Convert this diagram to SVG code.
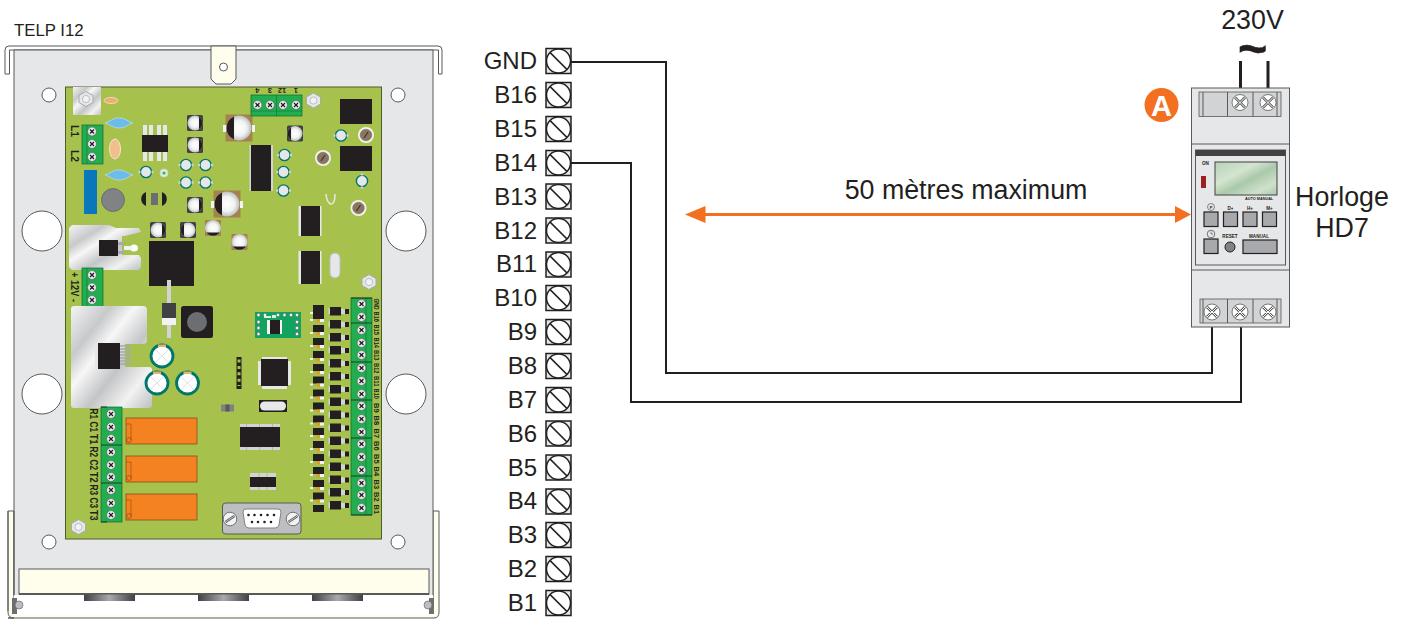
<svg xmlns="http://www.w3.org/2000/svg" xmlns:xlink="http://www.w3.org/1999/xlink" width="1407" height="619" viewBox="0 0 1407 619">
<style>
text{font-family:"Liberation Sans",Arial,sans-serif;fill:#231f20}
.lbl{font-size:24px}
.big{font-size:26.800px}
.end{text-anchor:end}
.mid{text-anchor:middle}
.rot{font-size:10px;font-weight:bold}
.rots{font-size:7.5px;font-weight:bold}
.wire{fill:none;stroke:#231f20;stroke-width:2}
.ac{fill:none;stroke:#231f20;stroke-width:3}
.bk{fill:#231f20}
.ln{fill:none;stroke:#58595b;stroke-width:1}
.plate{fill:#e6e7e8;stroke:#58595b;stroke-width:1}
.hole{fill:#fff;stroke:#58595b;stroke-width:1}
.term{fill:#22ad50;stroke:#0b6b33;stroke-width:.7}
.si{fill:url(#silver)}
.cap{fill:url(#ball)}
.cream{fill:#fffdec;stroke:#58595b;stroke-width:1}
.relay{fill:#f58220;stroke:#8a4b1a;stroke-width:.8}
.devb{fill:#e6e7e8;stroke:#58595b;stroke-width:1}
.devt{fill:#d1d3d4;stroke:#58595b;stroke-width:.8}
.btn{fill:#a7a9ac;stroke:#231f20;stroke-width:1.2}
.tiny{font-size:4.6px;font-weight:bold}
.term-box{fill:#e6e7e8;stroke:#231f20;stroke-width:1.5}
.term-c{fill:#fff;stroke:#231f20;stroke-width:1.5}
</style>
<defs>
<linearGradient id="silver" x1="0" y1="0" x2="1" y2="1">
<stop offset="0" stop-color="#f4f4f4"/><stop offset=".25" stop-color="#c8c9cb"/><stop offset=".4" stop-color="#f7f7f7"/><stop offset=".6" stop-color="#c4c5c7"/><stop offset=".8" stop-color="#f2f2f2"/><stop offset="1" stop-color="#bcbec0"/>
</linearGradient>
<radialGradient id="ball"><stop offset="0" stop-color="#fff"/><stop offset=".6" stop-color="#f1f2f2"/><stop offset="1" stop-color="#bcbec0"/></radialGradient>
<linearGradient id="tab" x1="0" y1="0" x2="1" y2="0"><stop offset="0" stop-color="#414042"/><stop offset=".5" stop-color="#a7a9ac"/><stop offset="1" stop-color="#414042"/></linearGradient>
<linearGradient id="lcd" x1="0" y1="0" x2="1" y2="1"><stop offset="0" stop-color="#b7d3b5"/><stop offset=".35" stop-color="#d4e4d0"/><stop offset=".55" stop-color="#a9c9a9"/><stop offset=".8" stop-color="#cfe1cc"/><stop offset="1" stop-color="#a9c9a9"/></linearGradient>
<g id="scr"><circle r="4.4" fill="#e9eaeb" stroke="#4d4d4f" stroke-width=".5"/><path d="M-2-2L2 2M2-2L-2 2" stroke="#231f20" stroke-width="1.2"/><circle r="1.1" class="bk"/></g>
<g id="nut"><path d="M-7-3.5L0-7.5L7-3.5V3.5L0 7.5L-7 3.5Z" fill="#e6e7e8" stroke="#a7a9ac" stroke-width="1"/><circle r="3.6" fill="#f1f2f2" stroke="#bcbec0"/></g>
<g id="tk"><circle r="5.6" fill="#e6e7e8" stroke="#00766c" stroke-width="1.4"/><path d="M-7.5-1.2H-5.5V1.2H-7.5ZM5.5-1.2H7.5V1.2H5.5Z" fill="#d1d3d4"/></g>
<g id="smd"><rect x="-8" y="-8" width="16" height="16" rx="1.5" fill="#414042"/><circle r="7.5" class="cap"/><path d="M4-6.3A7.5 7.5 0 0 1 4 6.3Z" class="bk"/></g>
<g id="smdl"><rect x="-8" y="-8" width="16" height="16" rx="1.5" fill="#414042"/><circle r="7.5" class="cap"/><path d="M-4-6.3A7.5 7.5 0 0 0-4 6.3Z" class="bk"/></g>
<g id="big"><rect x="-13.5" y="-13.5" width="27" height="27" fill="#a5814f"/><circle r="12.5" class="cap"/><path d="M-5-11.4A12.5 12.5 0 0 0-5 11.4Z" class="bk"/><rect x="-16" y="-3" width="3" height="7" fill="#f1f2f2"/><rect x="13" y="-3" width="3" height="7" fill="#f1f2f2"/></g>
<g id="low"><rect x="-8" y="-8" width="16" height="16" fill="#a5814f"/><circle r="8" class="cap"/><path d="M-6.5 4.5A8 8 0 0 0 6.5 4.5Z" class="bk"/></g>
<g id="trim"><circle r="8" fill="#f1f2f2"/><circle r="5.8" fill="#8a7660" stroke="#6d5d4c" stroke-width=".5"/><path d="M-2 3L2-3" stroke="#3d332a" stroke-width="1.2"/></g>
<g id="grn"><circle r="11" fill="#fff" stroke="#00766c" stroke-width="2.8"/><path d="M-7-7L7 7M7-7L-7 7" stroke="#d1d3d4" stroke-width=".7"/><rect x="-4" y="-11.5" width="8" height="2.5" fill="#e8b071"/></g>
<g id="bcap"><path d="M-14 0C-9-1-7-5 0-5S9-1 14 0C9 1 7 5 0 5S-9 1-14 0Z" fill="#6cbbe8" stroke="#b5ddf2" stroke-width=".8"/></g>
<g id="d1"><rect width="11" height="7" class="bk"/><rect x="-3" y="7" width="3" height="2" fill="#f1f2f2"/><rect x="3.5" y="7" width="3.5" height="3" fill="#e0982f"/><rect x="7" y="7" width="4" height="3" fill="#f1f2f2"/></g>
<g id="d2"><rect x="-1.5" y="1.5" width="14" height="5.5" fill="#d1d3d4"/><rect width="11" height="8.5" class="bk"/><rect x="15" y="2" width="4" height="5" class="bk"/><rect x="12" y="2" width="3" height="5" fill="#d1d3d4"/></g>
<g id="rel"><rect width="71" height="26" class="relay"/><path d="M0 6H5V22" fill="none" stroke="#8a4b1a" stroke-width=".6"/><circle cx="3" cy="22" r="2.4" fill="none" stroke="#8a4b1a" stroke-width=".7"/></g>
<g id="pad"><circle r="1.7" fill="#f1f2f2" stroke="#58595b" stroke-width=".5"/></g>
<g id="ds"><circle r="6.8" fill="#f1f2f2" stroke="#58595b" stroke-width=".8"/><path d="M-4.500 3L4.500-3" stroke="#58595b" stroke-width="2.400"/><path d="M-4.500 3L4.500-3" stroke="#f1f2f2" stroke-width=".7"/></g>
<g id="tb"><rect x="-12.5" y="-12.5" width="25" height="25" class="term-box"/><circle r="12" class="term-c"/><path d="M-8.5-8.5L8.5 8.5" stroke="#231f20" stroke-width="1.7"/></g>
</defs>

<rect width="1407" height="619" fill="#fff"/>

<g id="telp-title"><text x="14" y="36" font-size="16.8">TELP I12</text></g>

<g id="telp-enclosure">
<path d="M8 618H434Q439 618 439 612V511H433V612H14V511H8V612Q8 618 14 618Z" class="cream"/>
<path d="M5 74V50Q5 46 9 46H438Q442 46 442 50V74H438.500V50H9.500V74Z" fill="#fff" stroke="#58595b"/>
<path d="M14 50H433V596H14Z" class="plate"/>
<rect x="14" y="595" width="419" height="20" fill="#fff"/>
<path d="M8 611V511M14 511V595" class="ln"/>
<rect x="19" y="569" width="410" height="25" class="cream"/>
<path d="M19 594H429" stroke="#414042" stroke-width="1.5"/>
<rect x="84" y="594.500" width="51" height="6.500" fill="url(#tab)"/>
<rect x="198" y="594.500" width="51" height="6.500" fill="url(#tab)"/>
<rect x="312" y="594.500" width="51" height="6.500" fill="url(#tab)"/>
<rect x="12" y="598" width="5" height="16" fill="#6d6e71"/><circle cx="19" cy="605" r="4" fill="#bcbec0" stroke="#58595b" stroke-width=".6"/>
<rect x="429" y="598" width="5" height="16" fill="#6d6e71"/><circle cx="428" cy="605" r="4" fill="#bcbec0" stroke="#58595b" stroke-width=".6"/>
<path d="M211 46H236V79L231 84H216L211 79Z" class="cream"/>
<circle cx="223.500" cy="67" r="4" fill="#fff" stroke="#58595b"/>
<circle cx="49" cy="95" r="7" class="hole"/><circle cx="398" cy="95" r="7" class="hole"/>
<circle cx="49" cy="542" r="7" class="hole"/><circle cx="398" cy="542" r="7" class="hole"/>
<circle cx="42" cy="231" r="20" class="hole"/><circle cx="406" cy="231" r="20" class="hole"/>
<circle cx="42" cy="394" r="20" class="hole"/><circle cx="406" cy="394" r="20" class="hole"/>
</g>

<g id="telp-board">
<rect x="65.500" y="87" width="316" height="452" fill="#a6c24d" stroke="#4f5b2a" stroke-width="1"/>

<rect x="73" y="87" width="28" height="28" class="si"/>
<use xlink:href="#nut" x="86" y="99"/>
<ellipse cx="111" cy="100.500" rx="7" ry="3" fill="#e8b071" stroke="#f6d9b4"/>

<rect x="82" y="125" width="21" height="39" class="term"/><path d="M87 125V164" stroke="#0b6b33" stroke-width=".5"/>
<use xlink:href="#scr" x="92" y="131.500"/><use xlink:href="#scr" x="92" y="144"/><use xlink:href="#scr" x="92" y="157"/>
<text class="rot" transform="translate(71,125) rotate(90)" textLength="12" lengthAdjust="spacingAndGlyphs">L1</text>
<text class="rot" transform="translate(71,150) rotate(90)" textLength="12" lengthAdjust="spacingAndGlyphs">L2</text>

<use xlink:href="#bcap" x="119" y="123"/><use xlink:href="#bcap" x="119" y="175"/>
<ellipse cx="115" cy="149" rx="5.500" ry="10" fill="#f1bf8c" stroke="#f9e3c9"/>
<path d="M143 125h4v10h-4zM149 125h4v10h-4zM157 125h4v10h-4zM163 125h4v10h-4zM143 152h4v9h-4zM149 152h4v9h-4zM157 152h4v9h-4zM163 152h4v9h-4z" fill="#e6e7e8"/>
<rect x="142" y="135" width="26" height="17" class="bk"/>
<use xlink:href="#smd" x="195" y="123"/><use xlink:href="#smd" x="195" y="145"/>
<use xlink:href="#tk" x="186" y="165"/><use xlink:href="#tk" x="205.500" y="165"/><use xlink:href="#tk" x="186" y="182.500"/><use xlink:href="#tk" x="205.500" y="182.500"/>
<use xlink:href="#tk" x="146" y="172"/>
<circle cx="164" cy="173" r="4" fill="#d6f0dc" stroke="#d1d3d4"/><circle cx="164" cy="173" r="1.6" fill="#39b54a"/>
<rect x="84" y="170" width="13" height="44" fill="#0a76bc"/>
<circle cx="113" cy="200" r="11.500" fill="#808285" stroke="#58595b" stroke-width=".6"/>
<path d="M146 192A7.500 7.500 0 0 0 146 206ZM162 192A7.500 7.500 0 0 1 162 206Z" class="bk"/>
<path d="M147 193h3v12h-3zM158 193h3v12h-3z" fill="#a6c24d"/><rect x="151" y="193" width="7" height="12" fill="#6d6e71"/>
<use xlink:href="#smd" x="195" y="205"/><use xlink:href="#big" x="227" y="204"/><use xlink:href="#big" x="239" y="128"/>
<use xlink:href="#smdl" x="188" y="230"/><use xlink:href="#smd" x="158" y="230"/><use xlink:href="#low" x="213" y="228"/><use xlink:href="#low" x="239.500" y="242"/>

<path d="M72 225H109L116 228H139L141 232L125 236H122V255H139L141 258V267L139 270H72L69 267V228Z" class="si"/>
<rect x="99" y="240" width="19" height="16" class="bk"/>
<path d="M118 242H124V245H118ZM118 251H124V254H118Z" fill="#a7a9ac"/><ellipse cx="134" cy="248" rx="4" ry="3.500" fill="#fff"/><path d="M124 248H132" stroke="#f1f2f2" stroke-width="4"/>
<rect x="149" y="241" width="45" height="45" class="bk"/>

<rect x="82" y="268" width="21" height="39" class="term"/><path d="M87 268V307" stroke="#0b6b33" stroke-width=".5"/>
<use xlink:href="#scr" x="92" y="275"/><use xlink:href="#scr" x="92" y="287.500"/><use xlink:href="#scr" x="92" y="300"/>
<text class="rot" transform="translate(71,272) rotate(90)" textLength="30" lengthAdjust="spacingAndGlyphs">+ 12V -</text>

<path d="M74 306H143Q147 306 147 310V341Q147 344 143 344H125V367H149Q152 367 152 370V405Q152 408 149 408H74Q71 408 71 405V309Q71 306 74 306Z" class="si"/>
<rect x="95" y="343" width="25" height="26" class="bk"/><rect x="95" y="343" width="3" height="26" fill="#e6e7e8"/>
<path d="M120 346H131M120 349H131M120 352H131M120 355H131M120 358H131M120 361H131M120 364H131" stroke="#a7a9ac" stroke-width="1.600"/>
<path d="M169 280V338" stroke="#d1d3d4" stroke-width="4"/>
<rect x="162" y="303" width="14" height="18" fill="#414042"/><rect x="162" y="318" width="14" height="7" fill="#f1f2f2"/>
<rect x="181" y="306" width="32" height="32" rx="2.500" class="bk"/><circle cx="197" cy="322" r="10" fill="#6d6e71"/>
<use xlink:href="#grn" x="162" y="356"/><use xlink:href="#grn" x="157" y="383"/><use xlink:href="#grn" x="187.500" y="383"/>

<rect x="101" y="407" width="21" height="115" class="term"/>
<path d="M101 407H107M101 445H122M101 483H122M101 522H107" stroke="#231f20" stroke-width=".8"/>
<use xlink:href="#scr" x="111" y="414"/><use xlink:href="#scr" x="111" y="427"/><use xlink:href="#scr" x="111" y="439"/><use xlink:href="#scr" x="111" y="452"/><use xlink:href="#scr" x="111" y="465"/><use xlink:href="#scr" x="111" y="477"/><use xlink:href="#scr" x="111" y="490"/><use xlink:href="#scr" x="111" y="503"/><use xlink:href="#scr" x="111" y="515"/>
<text class="rot" transform="translate(90,408.500) rotate(90)" textLength="10.500" lengthAdjust="spacingAndGlyphs">R1</text>
<text class="rot" transform="translate(90,421.500) rotate(90)" textLength="10.500" lengthAdjust="spacingAndGlyphs">C1</text>
<text class="rot" transform="translate(90,434) rotate(90)" textLength="10.500" lengthAdjust="spacingAndGlyphs">T1</text>
<text class="rot" transform="translate(90,446.500) rotate(90)" textLength="10.500" lengthAdjust="spacingAndGlyphs">R2</text>
<text class="rot" transform="translate(90,459.500) rotate(90)" textLength="10.500" lengthAdjust="spacingAndGlyphs">C2</text>
<text class="rot" transform="translate(90,472) rotate(90)" textLength="10.500" lengthAdjust="spacingAndGlyphs">T2</text>
<text class="rot" transform="translate(90,484.500) rotate(90)" textLength="10.500" lengthAdjust="spacingAndGlyphs">R3</text>
<text class="rot" transform="translate(90,497.500) rotate(90)" textLength="10.500" lengthAdjust="spacingAndGlyphs">C3</text>
<text class="rot" transform="translate(90,510) rotate(90)" textLength="10.500" lengthAdjust="spacingAndGlyphs">T3</text>
<use xlink:href="#rel" x="126" y="418"/><use xlink:href="#rel" x="126" y="456"/><use xlink:href="#rel" x="126" y="494"/>
<use xlink:href="#nut" x="78.500" y="527"/>

<rect x="251" y="95" width="51" height="21" class="term"/><path d="M276.500 95V116M251 111H302" stroke="#0b6b33" stroke-width=".5"/>
<use xlink:href="#scr" x="257.500" y="105"/><use xlink:href="#scr" x="270" y="105"/><use xlink:href="#scr" x="283" y="105"/><use xlink:href="#scr" x="296" y="105"/>
<text class="rot mid" transform="translate(257.500,88) rotate(180)" style="font-size:7.500px">4</text>
<text class="rot mid" transform="translate(270,88) rotate(180)" style="font-size:7.500px">3</text>
<text class="rot mid" transform="translate(282,88) rotate(180)" style="font-size:7.500px">12</text>
<text class="rot mid" transform="translate(296,88) rotate(180)" style="font-size:7.500px">1</text>
<use xlink:href="#nut" x="313.500" y="100.500"/>
<rect x="340" y="99" width="32" height="25" class="bk"/><rect x="340" y="146" width="32" height="25" class="bk"/>
<use xlink:href="#trim" x="366" y="135"/><use xlink:href="#trim" x="323" y="158"/><use xlink:href="#trim" x="358.500" y="208"/>
<use xlink:href="#tk" x="341" y="135.500"/><use xlink:href="#tk" x="284.500" y="155"/><use xlink:href="#tk" x="283.500" y="172"/><use xlink:href="#tk" x="283.500" y="190.500"/>
<use xlink:href="#tk" transform="translate(362,181) rotate(90)"/>
<rect x="249.500" y="145" width="3" height="46" fill="#d1d3d4"/><rect x="270" y="145" width="3" height="46" fill="#d1d3d4"/>
<rect x="251" y="145" width="20" height="46" class="bk"/>
<use xlink:href="#smdl" x="295" y="133.500"/>
<path d="M326 194C327 204 331 204 331 204C332 204 335 204 335 194" fill="none" stroke="#e6e7e8" stroke-width="1.500"/>
<rect x="298.500" y="206" width="23" height="30" fill="#e6e7e8"/><rect x="301" y="206" width="19" height="30" class="bk"/>
<rect x="298.500" y="251" width="23" height="33" fill="#e6e7e8"/><rect x="301" y="251" width="19" height="33" class="bk"/>
<rect x="330" y="253" width="10" height="25" rx="5" fill="#e6e7e8" stroke="#bcbec0"/>
<use xlink:href="#nut" x="369" y="282"/>

<rect x="255" y="312" width="46" height="26" fill="#12a360"/>
<use xlink:href="#pad" x="258.500" y="315"/><use xlink:href="#pad" x="258.500" y="322"/><use xlink:href="#pad" x="258.500" y="328"/><use xlink:href="#pad" x="258.500" y="334"/>
<use xlink:href="#pad" x="265" y="315"/><use xlink:href="#pad" x="278" y="315"/><use xlink:href="#pad" x="284.500" y="315"/><use xlink:href="#pad" x="291" y="315"/><use xlink:href="#pad" x="297" y="315"/>
<use xlink:href="#pad" x="297" y="322"/><use xlink:href="#pad" x="297" y="328"/><use xlink:href="#pad" x="297" y="334"/>
<path d="M264 318V316H271V318ZM272 318V315H276V318Z" fill="#e6e7e8"/>
<rect x="267" y="320" width="15" height="14" fill="#f1f2f2"/><rect x="270" y="320" width="10" height="14" class="bk"/>
<rect x="236.500" y="357" width="5" height="32" class="bk"/>
<path d="M239 359.500V386" stroke="#a6c24d" stroke-width="3" stroke-dasharray="3 3.400"/>
<rect x="258" y="361" width="33" height="24" fill="#e6e7e8"/><rect x="262" y="357" width="25" height="32" fill="#e6e7e8"/>
<rect x="261" y="359" width="27" height="27" class="bk"/>
<rect x="259" y="400" width="28" height="12" class="bk"/><rect x="260" y="401.500" width="26" height="9" rx="4.500" fill="#e6e7e8"/>
<rect x="221" y="404.500" width="13" height="7" fill="#808285"/><rect x="225.500" y="404.500" width="4" height="7" fill="#58595b"/>
<rect x="240" y="424" width="40" height="26" fill="#d1d3d4"/><rect x="240" y="427" width="40" height="20" class="bk"/>
<path d="M246.500 424V427M259.500 424V427M272.500 424V427M246.500 447V450M259.500 447V450M272.500 447V450" stroke="#a6c24d" stroke-width=".8"/>
<rect x="250" y="473" width="26" height="17" fill="#d1d3d4"/><rect x="250" y="477" width="26" height="10" class="bk"/>
<path d="M259 473V477M267 473V477M259 487V490M267 487V490" stroke="#a6c24d" stroke-width=".8"/>

<rect x="222.500" y="503" width="78.500" height="31" rx="3" fill="#bcbec0" stroke="#58595b"/>
<use xlink:href="#ds" x="230" y="519"/><use xlink:href="#ds" x="293" y="519"/>
<path d="M246 509H278Q281 509 281 512L279 525Q278 528 275 528H249Q246 528 245 525L243 512Q243 509 246 509Z" fill="#fff" stroke="#808285"/>
<path d="M248.500 515h.01M254.500 515h.01M261 515h.01M267.500 515h.01M274 515h.01M252 522h.01M258 522h.01M264.500 522h.01M271 522h.01" stroke="#231f20" stroke-width="2.600" stroke-linecap="round"/>

<use xlink:href="#d1" x="313" y="305"/><use xlink:href="#d1" x="313" y="312"/><use xlink:href="#d1" x="313" y="325"/><use xlink:href="#d1" x="313" y="338"/><use xlink:href="#d1" x="313" y="351"/><use xlink:href="#d1" x="313" y="364"/><use xlink:href="#d1" x="313" y="376.500"/><use xlink:href="#d1" x="313" y="389.500"/><use xlink:href="#d1" x="313" y="402.500"/><use xlink:href="#d1" x="313" y="415.500"/><use xlink:href="#d1" x="313" y="428"/><use xlink:href="#d1" x="313" y="441"/><use xlink:href="#d1" x="313" y="454"/><use xlink:href="#d1" x="313" y="467"/><use xlink:href="#d1" x="313" y="480"/><use xlink:href="#d1" x="313" y="492.500"/>
<rect x="313" y="505" width="11" height="7" class="bk"/>
<use xlink:href="#d2" x="330" y="307"/><use xlink:href="#d2" x="330" y="320"/><use xlink:href="#d2" x="330" y="333"/><use xlink:href="#d2" x="330" y="346"/><use xlink:href="#d2" x="330" y="359"/><use xlink:href="#d2" x="330" y="372"/><use xlink:href="#d2" x="330" y="385"/><use xlink:href="#d2" x="330" y="397.500"/><use xlink:href="#d2" x="330" y="410.500"/><use xlink:href="#d2" x="330" y="423.500"/><use xlink:href="#d2" x="330" y="436.500"/><use xlink:href="#d2" x="330" y="449.500"/><use xlink:href="#d2" x="330" y="462.500"/><use xlink:href="#d2" x="330" y="475.500"/><use xlink:href="#d2" x="330" y="488"/><use xlink:href="#d2" x="330" y="501"/>

<rect x="351" y="298" width="21" height="217" class="term"/><path d="M366 298V515" stroke="#0b6b33" stroke-width=".5"/>
<path d="M351 298H372M351 323H372M351 362H372M351 400H372M351 438H372M351 476H372M351 515H372" stroke="#231f20" stroke-width=".8"/>
<use xlink:href="#scr" x="361.500" y="304"/><use xlink:href="#scr" x="361.500" y="317"/><use xlink:href="#scr" x="361.500" y="330"/><use xlink:href="#scr" x="361.500" y="343"/><use xlink:href="#scr" x="361.500" y="355"/><use xlink:href="#scr" x="361.500" y="368"/><use xlink:href="#scr" x="361.500" y="381"/><use xlink:href="#scr" x="361.500" y="394"/><use xlink:href="#scr" x="361.500" y="406"/><use xlink:href="#scr" x="361.500" y="419"/><use xlink:href="#scr" x="361.500" y="432"/><use xlink:href="#scr" x="361.500" y="444"/><use xlink:href="#scr" x="361.500" y="457"/><use xlink:href="#scr" x="361.500" y="470"/><use xlink:href="#scr" x="361.500" y="483"/><use xlink:href="#scr" x="361.500" y="495"/><use xlink:href="#scr" x="361.500" y="508"/>
<text class="rots" transform="translate(373.500,298.500) rotate(90)" textLength="11" lengthAdjust="spacingAndGlyphs">GND</text>
<text class="rots" transform="translate(373.500,311.500) rotate(90)" textLength="10.500" lengthAdjust="spacingAndGlyphs">B16</text>
<text class="rots" transform="translate(373.500,324.500) rotate(90)" textLength="10.500" lengthAdjust="spacingAndGlyphs">B15</text>
<text class="rots" transform="translate(373.500,337.500) rotate(90)" textLength="10.500" lengthAdjust="spacingAndGlyphs">B14</text>
<text class="rots" transform="translate(373.500,350) rotate(90)" textLength="10.500" lengthAdjust="spacingAndGlyphs">B13</text>
<text class="rots" transform="translate(373.500,363) rotate(90)" textLength="10.500" lengthAdjust="spacingAndGlyphs">B12</text>
<text class="rots" transform="translate(373.500,376) rotate(90)" textLength="10.500" lengthAdjust="spacingAndGlyphs">B11</text>
<text class="rots" transform="translate(373.500,388.500) rotate(90)" textLength="10.500" lengthAdjust="spacingAndGlyphs">B10</text>
<text class="rots" transform="translate(373.500,403) rotate(90)">B9</text>
<text class="rots" transform="translate(373.500,415.500) rotate(90)">B8</text>
<text class="rots" transform="translate(373.500,428.500) rotate(90)">B7</text>
<text class="rots" transform="translate(373.500,441) rotate(90)">B6</text>
<text class="rots" transform="translate(373.500,454) rotate(90)">B5</text>
<text class="rots" transform="translate(373.500,466.500) rotate(90)">B4</text>
<text class="rots" transform="translate(373.500,479.500) rotate(90)">B3</text>
<text class="rots" transform="translate(373.500,492) rotate(90)">B2</text>
<text class="rots" transform="translate(373.500,504.500) rotate(90)">B1</text>
</g>

<g id="connectors">
<path class="wire" d="M571 62H666V373H1212V327"/>
<path class="wire" d="M571 163H631V402H1241V327"/>
<path class="ac" d="M1240.500 88V61M1268 88V61"/>
<g id="distance-arrow">
<path d="M700 214.500H1180" stroke="#f37021" stroke-width="3" fill="none"/>
<path d="M685 214.500L705.500 206V223Z" fill="#f37021"/>
<path d="M1191 214.500L1175 206V223Z" fill="#f37021"/>
</g>
</g>
<g id="arrow-label"><text class="big mid" x="966" y="199">50 mètres maximum</text></g>

<g id="t-gnd"><text class="lbl end" x="537" y="69">GND</text><use xlink:href="#tb" x="558.500" y="61"/></g>
<g id="t-b16"><text class="lbl end" x="537" y="103">B16</text><use xlink:href="#tb" x="558.500" y="95"/></g>
<g id="t-b15"><text class="lbl end" x="537" y="137">B15</text><use xlink:href="#tb" x="558.500" y="129"/></g>
<g id="t-b14"><text class="lbl end" x="537" y="171">B14</text><use xlink:href="#tb" x="558.500" y="163"/></g>
<g id="t-b13"><text class="lbl end" x="537" y="205">B13</text><use xlink:href="#tb" x="558.500" y="196.500"/></g>
<g id="t-b12"><text class="lbl end" x="537" y="239">B12</text><use xlink:href="#tb" x="558.500" y="230.500"/></g>
<g id="t-b11"><text class="lbl end" x="537" y="272">B11</text><use xlink:href="#tb" x="558.500" y="264.500"/></g>
<g id="t-b10"><text class="lbl end" x="537" y="306">B10</text><use xlink:href="#tb" x="558.500" y="298"/></g>
<g id="t-b9"><text class="lbl end" x="537" y="340">B9</text><use xlink:href="#tb" x="558.500" y="332"/></g>
<g id="t-b8"><text class="lbl end" x="537" y="374">B8</text><use xlink:href="#tb" x="558.500" y="366"/></g>
<g id="t-b7"><text class="lbl end" x="537" y="408">B7</text><use xlink:href="#tb" x="558.500" y="400"/></g>
<g id="t-b6"><text class="lbl end" x="537" y="442">B6</text><use xlink:href="#tb" x="558.500" y="433.500"/></g>
<g id="t-b5"><text class="lbl end" x="537" y="476">B5</text><use xlink:href="#tb" x="558.500" y="467.500"/></g>
<g id="t-b4"><text class="lbl end" x="537" y="509">B4</text><use xlink:href="#tb" x="558.500" y="501.500"/></g>
<g id="t-b3"><text class="lbl end" x="537" y="543">B3</text><use xlink:href="#tb" x="558.500" y="535"/></g>
<g id="t-b2"><text class="lbl end" x="537" y="577">B2</text><use xlink:href="#tb" x="558.500" y="569"/></g>
<g id="t-b1"><text class="lbl end" x="537" y="611">B1</text><use xlink:href="#tb" x="558.500" y="603"/></g>

<g id="horloge-hd7">
<rect x="1191.500" y="88" width="98" height="239" class="devb"/>
<path d="M1191.500 144H1289.500M1191.500 270H1289.500" stroke="#58595b"/>
<rect x="1199" y="92" width="82" height="24.500" class="devt"/>
<path d="M1203 92V116.500M1227.500 92V116.500M1253 92V116.500M1277 92V116.500" class="ln"/>
<g fill="#fff" stroke="#58595b" stroke-width=".8"><circle cx="1240" cy="102.500" r="8"/><circle cx="1268" cy="102.500" r="8"/></g>
<path d="M1235 97.500L1245 107.500M1245 97.500L1235 107.500M1263 97.500L1273 107.500M1273 97.500L1263 107.500" stroke="#58595b" stroke-width="2.500"/>
<path d="M1235 97.500L1245 107.500M1245 97.500L1235 107.500M1263 97.500L1273 107.500M1273 97.500L1263 107.500" stroke="#fff" stroke-width="1"/>
<rect x="1195.500" y="150" width="90" height="115" fill="#e6e7e8" stroke="#58595b"/>
<rect x="1195.500" y="150" width="90" height="6" fill="#414042"/>
<text class="tiny" x="1202" y="165">ON</text>
<rect x="1201" y="176" width="5" height="12" fill="#9e1f24"/>
<rect x="1215" y="162" width="62" height="33" fill="url(#lcd)" stroke="#414042"/>
<text class="tiny" x="1245" y="200" style="font-size:3.800px">AUTO MANUAL</text>
<rect x="1204" y="212" width="14" height="14.500" class="btn"/><rect x="1223.500" y="212" width="14" height="14.500" class="btn"/><rect x="1243" y="212" width="14" height="14.500" class="btn"/><rect x="1262.500" y="212" width="14" height="14.500" class="btn"/>
<circle cx="1211" cy="207" r="3.500" fill="none" stroke="#414042" stroke-width=".6"/><text class="tiny mid" x="1211" y="209" style="font-size:4px">P</text>
<text class="tiny mid" x="1230.500" y="210">D+</text><text class="tiny mid" x="1250" y="210">H+</text><text class="tiny mid" x="1269.500" y="210">M+</text>
<rect x="1204" y="239" width="14" height="14.500" class="btn"/>
<circle cx="1211" cy="234" r="3.800" fill="none" stroke="#414042" stroke-width=".7"/><path d="M1211 231.500V234H1213" fill="none" stroke="#414042" stroke-width=".6"/>
<text class="tiny mid" x="1230" y="238">RESET</text><circle cx="1230" cy="247" r="5" fill="#808285" stroke="#231f20"/>
<text class="tiny mid" x="1259" y="238">MANUAL</text><rect x="1243" y="240" width="34" height="13.500" class="btn"/>
<rect x="1200" y="299" width="81" height="24" class="devt"/>
<path d="M1203 299V323M1227.500 299V323M1253 299V323M1277 299V323" class="ln"/>
<g fill="#fff" stroke="#58595b" stroke-width=".8"><circle cx="1212" cy="312" r="8"/><circle cx="1240" cy="312" r="8"/><circle cx="1268" cy="312" r="8"/></g>
<path d="M1207 307L1217 317M1217 307L1207 317M1235 307L1245 317M1245 307L1235 317M1263 307L1273 317M1273 307L1263 317" stroke="#58595b" stroke-width="2.500"/>
<path d="M1207 307L1217 317M1217 307L1207 317M1235 307L1245 317M1245 307L1235 317M1263 307L1273 317M1273 307L1263 317" stroke="#fff" stroke-width="1"/>
<text class="big mid" x="1342" y="206">Horloge</text>
<text class="big mid" x="1342" y="237">HD7</text>
</g>

<g id="badge-a"><circle cx="1161.500" cy="105" r="17" fill="#f37021"/><text class="mid" x="1161.500" y="115.500" font-size="29" font-weight="bold" style="fill:#fff">A</text></g>
<g id="supply-label"><text class="big mid" x="1252.500" y="29">230V</text>
<text class="mid" x="1252.500" y="66" font-size="50" font-weight="bold" stroke="#231f20" stroke-width=".6">~</text></g>
</svg>
